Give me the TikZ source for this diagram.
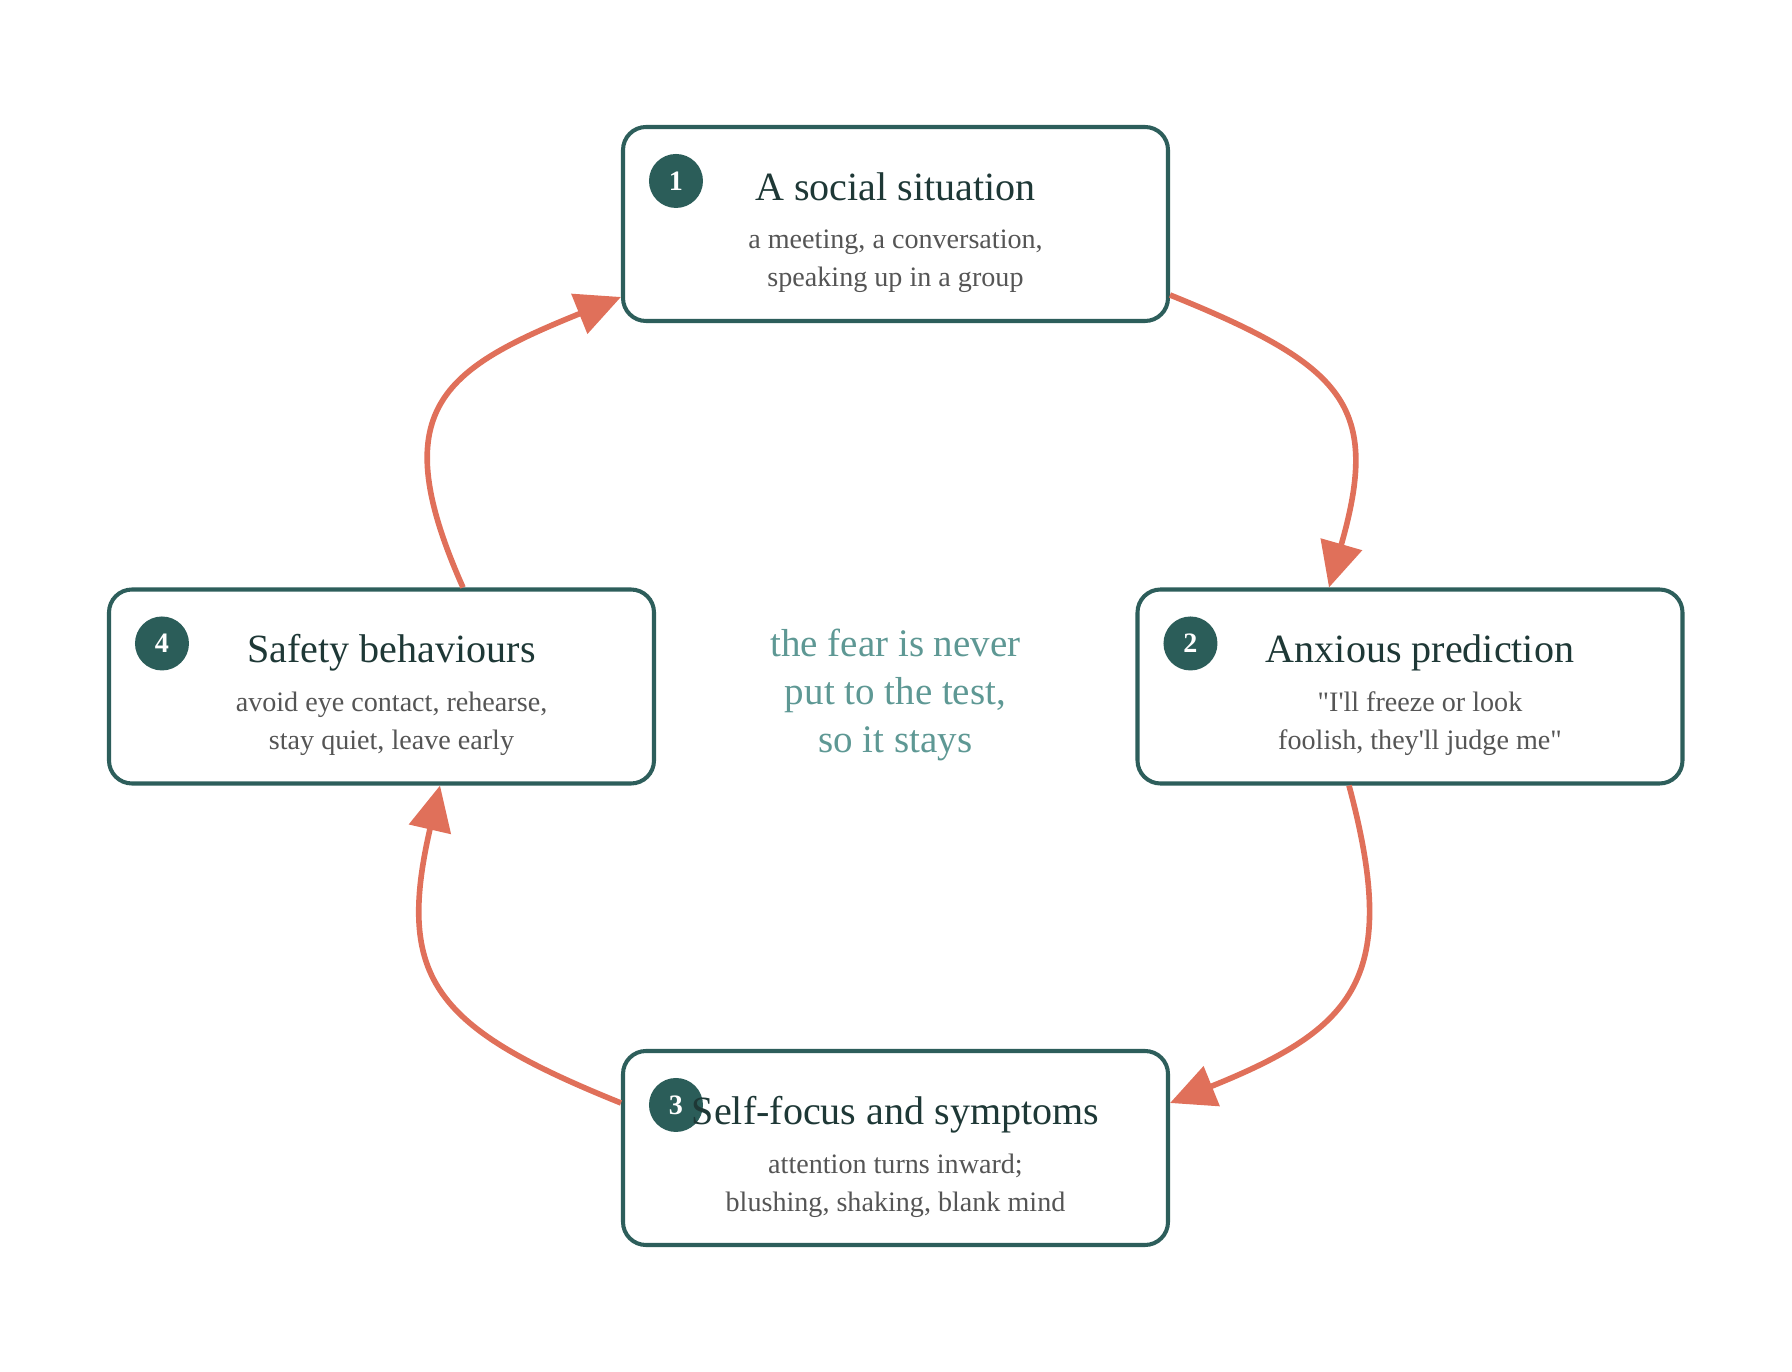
\documentclass[tikz,border=0pt]{standalone}
\usepackage{fontspec}
\setmainfont{Liberation Serif}[Ligatures=TeXOff]
\usetikzlibrary{arrows.meta}

\definecolor{boxline}{HTML}{2D5E5B}
\definecolor{badgefill}{HTML}{2B5D59}
\definecolor{titletext}{HTML}{1E3836}
\definecolor{subtext}{HTML}{555555}
\definecolor{loopline}{HTML}{E0705A}
\definecolor{centertext}{HTML}{5E9894}

\tikzset{
  stage/.style={draw=boxline, line width=1.15pt, rounded corners=0.23cm,
    minimum width=5.45cm, minimum height=1.94cm, fill=white, inner sep=0pt},
  badge/.style={circle, fill=badgefill, minimum size=0.54cm, inner sep=0pt,
    text=white, font=\fontsize{8}{8}\selectfont\bfseries},
  stagetitle/.style={anchor=base, inner sep=0pt, text=titletext,
    font=\fontsize{11.4}{13}\selectfont},
  stagenote/.style={anchor=center, inner sep=0pt, align=center, text=subtext,
    font=\fontsize{8}{10.8}\selectfont},
  flow/.style={draw=loopline, line width=1.6pt,
    -{Triangle[length=0.45cm,width=0.42cm]}}
}

\begin{document}
\begin{tikzpicture}

\useasboundingbox (0,0) rectangle (17.92,-13.72);

% The four stages of the loop
\node[stage] (s1) at (8.955,-2.24) {};
\node[stage] (s2) at (14.10,-6.865) {};
\node[stage] (s3) at (8.955,-11.48) {};
\node[stage] (s4) at (3.815,-6.865) {};

% Numbered badges
\node[badge] (b1) at ([shift={(0.55,-0.56)}]s1.north west) {1};
\node[badge] (b2) at ([shift={(0.55,-0.56)}]s2.north west) {2};
\node[badge] (b3) at ([shift={(0.55,-0.56)}]s3.north west) {3};
\node[badge] (b4) at ([shift={(0.55,-0.56)}]s4.north west) {4};

% Titles and notes
\node[stagetitle] (t1) at ([yshift=-0.755cm]s1.north) {A social situation};
\node[stagenote] (n1) at ([yshift=-1.365cm]s1.north) {a meeting, a conversation,\\speaking up in a group};

\node[stagetitle] (t2) at ([shift={(0.1,-0.755)}]s2.north) {Anxious prediction};
\node[stagenote] (n2) at ([shift={(0.1,-1.365)}]s2.north) {"I'll freeze or look\\foolish, they'll judge me"};

\node[stagetitle] (t3) at ([yshift=-0.755cm]s3.north) {Self-focus and symptoms};
\node[stagenote] (n3) at ([yshift=-1.365cm]s3.north) {attention turns inward;\\blushing, shaking, blank mind};

\node[stagetitle] (t4) at ([shift={(0.1,-0.755)}]s4.north) {Safety behaviours};
\node[stagenote] (n4) at ([shift={(0.1,-1.365)}]s4.north) {avoid eye contact, rehearse,\\stay quiet, leave early};

% Middle of the loop
\node[align=center, text=centertext, font=\fontsize{11.1}{13.66}\selectfont]
  (core) at (8.955,-6.95) {the fear is never\\put to the test,\\so it stays};

% Arrows round the loop
\draw[flow] ([yshift=-0.71cm]s1.east) to[out=-22, in=74, looseness=1.45] ([xshift=-0.81cm]s2.north);
\draw[flow] ([xshift=-0.61cm]s2.south) to[out=-75, in=22, looseness=1.4] ([yshift=0.45cm]s3.east);
\draw[flow] ([yshift=0.45cm]s3.west) to[out=158, in=-103, looseness=1.4] ([xshift=0.585cm]s4.south);
\draw[flow] ([xshift=0.815cm]s4.north) to[out=114, in=-158, looseness=1.5] ([yshift=-0.73cm]s1.west);

\end{tikzpicture}
\end{document}
